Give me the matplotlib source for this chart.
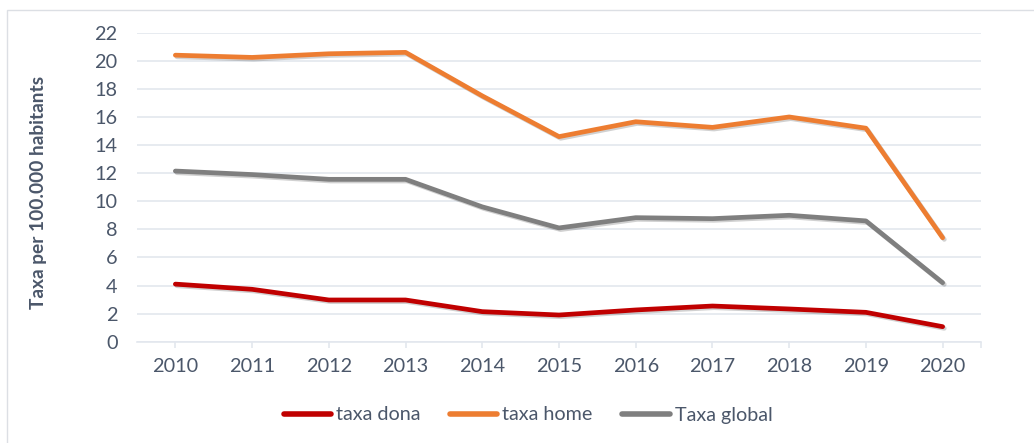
import matplotlib
matplotlib.use("Agg")
import matplotlib.pyplot as plt
import matplotlib.patheffects as pe
from matplotlib.patches import Rectangle

years = [2010, 2011, 2012, 2013, 2014, 2015, 2016, 2017, 2018, 2019, 2020]
taxa_dona = [4.1, 3.73, 2.97, 2.97, 2.14, 1.9, 2.26, 2.54, 2.33, 2.09, 1.07]
taxa_home = [20.4, 20.24, 20.5, 20.6, 17.5, 14.6, 15.66, 15.26, 16.0, 15.2, 7.4]
taxa_global = [12.15, 11.9, 11.56, 11.56, 9.6, 8.1, 8.83, 8.76, 9.0, 8.6, 4.2]
y_ticks = list(range(0, 23, 2))

TXT = "#4B576A"
GRID = "#E3E7EE"

plt.rcParams['font.family'] = ['Lato', 'DejaVu Sans']

fig = plt.figure(figsize=(10.34, 4.43), dpi=100)
ax = fig.add_axes([137/1034, 1 - 341.7/443, 844/1034, 309/443])

shadow = [pe.SimpleLineShadow(offset=(1.2, -1.2), alpha=0.18, shadow_color='black'), pe.Normal()]
series = [("taxa dona", taxa_dona, "#C00000"),
          ("taxa home", taxa_home, "#ED7D31"),
          ("Taxa global", taxa_global, "#7F7F7F")]
for name, vals, col in series:
    ax.plot(years, vals, color=col, lw=3.4, solid_capstyle='round',
            solid_joinstyle='round', label=name, path_effects=shadow, zorder=3)

ax.set_xlim(2009.5, 2020.5)
ax.set_ylim(0, 22)
ax.set_yticks(y_ticks)
ax.set_xticks(years + [2020.5])
ax.set_xticklabels([str(y) for y in years] + [""])
ax.grid(axis='y', color=GRID, lw=1.2)
ax.set_axisbelow(True)
for s in ['top', 'right', 'left']:
    ax.spines[s].set_visible(False)
ax.spines['bottom'].set_color(GRID)
ax.spines['bottom'].set_linewidth(1.2)
ax.tick_params(axis='y', length=0, pad=14, labelsize=14.3, labelcolor=TXT)
ax.tick_params(axis='x', length=4, width=1.2, color=GRID, pad=8, labelsize=14.3, labelcolor=TXT)

ax.set_ylabel("Taxa per 100.000 habitants", fontsize=13.8, fontweight='bold', color=TXT, va='center')
ax.yaxis.set_label_coords(-0.117, 0.484)

leg = fig.legend(loc='center', bbox_to_anchor=(528/1034, 1 - 415/443), ncol=3, frameon=False,
                 fontsize=14.2, handlelength=2.4, handletextpad=0.25, columnspacing=1.5)
for t in leg.get_texts():
    t.set_color(TXT)
for h in leg.get_lines():
    h.set_linewidth(4)
    h.set_path_effects([])

fig.add_artist(Rectangle((7/1034, -0.1), 1.2, 1.1 - 10/443, transform=fig.transFigure,
                         fill=False, edgecolor="#DCDFE4", lw=1.0))

fig.savefig("out.png", dpi=100)
